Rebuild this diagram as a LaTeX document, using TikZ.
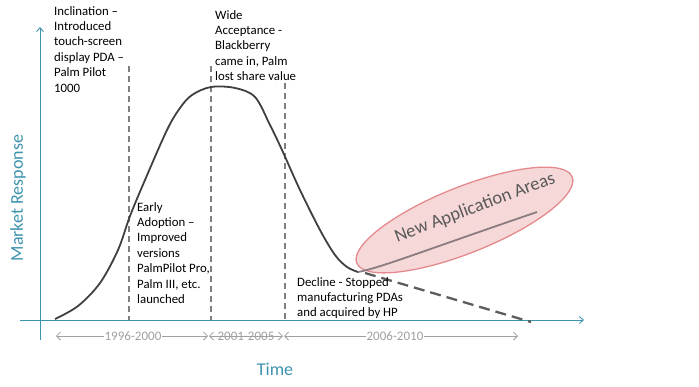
\documentclass[tikz,border=0pt]{standalone}
\usepackage{fontspec}
\setmainfont{Carlito}
\usetikzlibrary{arrows.meta}
\definecolor{axiscol}{HTML}{3D93AE}
\definecolor{curvecol}{HTML}{404040}
\definecolor{dashcol}{HTML}{7F7F7F}
\definecolor{yearcol}{HTML}{A0A0A0}
\definecolor{ellfill}{HTML}{F6D8D9}
\definecolor{elldraw}{HTML}{E58A8C}
\definecolor{newcol}{HTML}{8A7C80}
\tikzset{
  axisline/.style={draw=axiscol, line width=0.9pt, -{Straight Barb[length=4pt,width=7pt]}},
  phase/.style={draw=dashcol, line width=1.1pt, dash pattern=on 6pt off 4pt},
  yeararrow/.style={draw=yearcol, line width=0.8pt, {Straight Barb[length=4pt,width=8pt]}-{Straight Barb[length=4pt,width=8pt]}},
  yearlabel/.style={fill=white, text=yearcol, font=\fontsize{13}{15}\selectfont, inner sep=1pt},
  note/.style={anchor=north west, align=left, inner sep=0pt, font=\fontsize{12.8}{15.4}\selectfont},
  bigtext/.style={text=axiscol, font=\fontsize{18}{20}\selectfont}
}
\begin{document}
\begin{tikzpicture}[x=1pt,y=-1pt]
\useasboundingbox (0,0) rectangle (699,386);
% axes
\coordinate (yb) at (40,340);
\coordinate (yt) at (40,27);
\coordinate (xl) at (20,320);
\coordinate (xr) at (584,320);
\draw[axisline] (yb) -- (yt);
\draw[axisline] (xl) -- (xr);
\node[bigtext] (time) at (275,369) {Time};
\node[bigtext, rotate=90] (mr) at (18,198) {Market Response};
% phase separators
\coordinate (d1t) at (129,66); \coordinate (d1b) at (129,320);
\coordinate (d2t) at (211,66); \coordinate (d2b) at (211,320);
\coordinate (d3t) at (285,83); \coordinate (d3b) at (285,320);
\draw[phase] (d1t) -- (d1b);
\draw[phase] (d2t) -- (d2b);
\draw[phase] (d3t) -- (d3b);
% ellipse
\filldraw[fill=ellfill, draw=elldraw, line width=1.3pt, rotate around={21.8:(464.5,220)}] (464.5,220) ellipse [x radius=116, y radius=33];
\node[rotate=20.5, text=black!65, font=\fontsize{18.5}{20}\selectfont] (naa) at (475,208) {New Application Areas};
% main curve
\coordinate (cs) at (55,319);
\coordinate (cm) at (358,272);
\draw[curvecol, line width=1.8pt, line join=round] plot[smooth, tension=0.55] coordinates {
 (55,319) (78,306) (100,283) (118,250) (130,216) (145,180) (167,130) (180,108) (192,95) (211,87) (235,88) (255,97) (270,125) (282,150) (300,190) (320,230) (335,255) (347,267) (358,272)};
% new application line and decline
\coordinate (ne) at (537,212);
\coordinate (de) at (531,322);
\draw[newcol, line width=1.8pt] (cm) .. controls (380,268) and (420,252) .. (ne);
\draw[curvecol!85, line width=2.3pt, dash pattern=on 11pt off 6pt] (365,273) -- (de);
% year arrows
\coordinate (a1l) at (56,336); \coordinate (a1r) at (208,336);
\coordinate (a2l) at (209,336); \coordinate (a2r) at (283,336);
\coordinate (a3l) at (284,336); \coordinate (a3r) at (518,336);
\draw[yeararrow] (a1l) -- (a1r);
\draw[yeararrow] (a2l) -- (a2r);
\draw[yeararrow] (a3l) -- (a3r);
\node[yearlabel] (y1) at (133,336) {1996-2000};
\node[yearlabel, fill=none] (y2) at (246,336) {2001-2005};
\node[yearlabel] (y3) at (395,336) {2006-2010};
% notes
\node[note] (n1) at (54,6) {Inclination –\\Introduced\\touch-screen\\display PDA –\\Palm Pilot\\1000};
\node[note] (n2) at (215,10) {Wide\\Acceptance -\\Blackberry\\came in, Palm\\lost share value};
\node[note] (n3) at (137,202) {Early\\Adoption –\\Improved\\versions\\PalmPilot Pro,\\Palm III, etc.\\launched};
\node[note] (n4) at (297,277) {Decline - Stopped\\manufacturing PDAs\\and acquired by HP};
\end{tikzpicture}
\end{document}
